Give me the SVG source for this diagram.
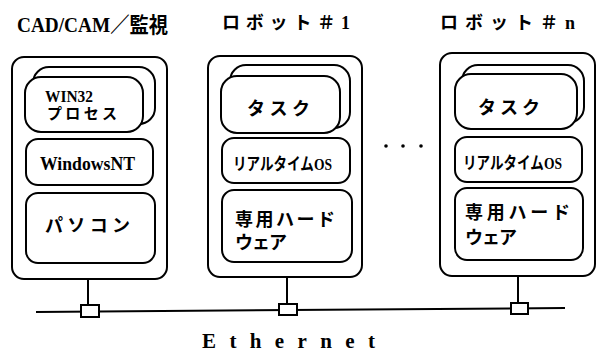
<svg xmlns="http://www.w3.org/2000/svg" width="597" height="354" viewBox="0 0 597 354">
<style>
.box{fill:#fff;stroke:#000;stroke-width:2}
.ln{stroke:#000;stroke-width:2;fill:none}
text{font-family:"Liberation Serif","Noto Sans CJK JP",serif;fill:#000;font-weight:600}
.t{font-size:21px}
.m{font-size:19px}
.j{font-size:18px}
</style>
<rect width="597" height="354" fill="#fff"/>
<g id="title-cad"><text class="t" x="17" y="32" textLength="151" lengthAdjust="spacingAndGlyphs">CAD/CAM／監視</text></g>
<g id="title-r1"><text x="222" y="29" font-size="18" textLength="128" lengthAdjust="spacing">ロボット＃1</text></g>
<g id="title-rn"><text x="440" y="29" font-size="18" textLength="135" lengthAdjust="spacing">ロボット＃n</text></g>

<g id="pc">
<rect class="box" x="12" y="57" width="155" height="222" rx="12"/>
<rect class="box" x="33" y="67" width="122" height="57" rx="16"/>
<rect class="box" x="25" y="77" width="118" height="55" rx="16"/>
<text x="45" y="102" font-size="16" textLength="48" lengthAdjust="spacingAndGlyphs">WIN32</text>
<text x="47" y="119" font-size="15" textLength="70" lengthAdjust="spacing">プロセス</text>
<rect class="box" x="26" y="139" width="127" height="46" rx="12"/>
<text x="40" y="170" class="m" textLength="95" lengthAdjust="spacingAndGlyphs">WindowsNT</text>
<rect class="box" x="26" y="193" width="129" height="70" rx="12"/>
<text x="45" y="232" font-size="18" textLength="85" lengthAdjust="spacing">パソコン</text>
</g>

<g id="robot1">
<rect class="box" x="208" y="56" width="154" height="221" rx="12"/>
<rect class="box" x="230" y="65" width="120" height="63" rx="16"/>
<rect class="box" x="221" y="76" width="119" height="57" rx="16"/>
<text x="247" y="115" font-size="18" textLength="63" lengthAdjust="spacing">タスク</text>
<rect class="box" x="222" y="138" width="128" height="45" rx="12"/>
<text x="233" y="170" font-size="17" textLength="99" lengthAdjust="spacingAndGlyphs">リアルタイムOS</text>
<rect class="box" x="222" y="190" width="130" height="72" rx="12"/>
<text x="235" y="226" class="j" textLength="100" lengthAdjust="spacing">専用ハード</text>
<text x="235" y="249" class="j" textLength="52" lengthAdjust="spacing">ウェア</text>
</g>

<g id="robotn">
<rect class="box" x="440" y="53" width="155" height="223" rx="12"/>
<rect class="box" x="462" y="65" width="122" height="58" rx="16"/>
<rect class="box" x="455" y="74" width="122" height="55" rx="16"/>
<text x="478" y="114" font-size="18" textLength="62" lengthAdjust="spacing">タスク</text>
<rect class="box" x="455" y="137" width="127" height="45" rx="12"/>
<text x="463" y="169" font-size="17" textLength="99" lengthAdjust="spacingAndGlyphs">リアルタイムOS</text>
<rect class="box" x="455" y="188" width="128" height="72" rx="12"/>
<text x="465" y="219" class="j" textLength="105" lengthAdjust="spacing">専用ハード</text>
<text x="465" y="244" class="j" textLength="52" lengthAdjust="spacing">ウェア</text>
</g>

<g id="dots">
<circle cx="386" cy="146" r="1.8"/>
<circle cx="403" cy="146" r="1.8"/>
<circle cx="421" cy="146" r="1.8"/>
</g>

<g id="connectors">
<line class="ln" x1="36" y1="312" x2="565" y2="308"/>
<line class="ln" x1="88" y1="279" x2="88" y2="305"/>
<line class="ln" x1="287" y1="277" x2="287" y2="304"/>
<line class="ln" x1="518" y1="276" x2="518" y2="303"/>
<rect class="box" x="81" y="305" width="18" height="12"/>
<rect class="box" x="279" y="304" width="18" height="11"/>
<rect class="box" x="511" y="303" width="17" height="11"/>
</g>

<g id="ethernet"><text x="202" y="348" font-size="21" textLength="173" lengthAdjust="spacing">Ethernet</text></g>
</svg>
